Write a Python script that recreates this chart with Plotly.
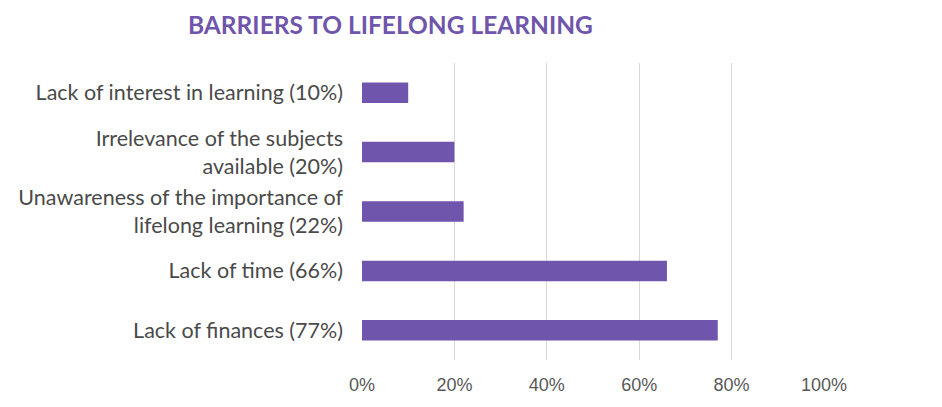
import plotly.graph_objects as go

categories = [
    "Lack of interest in learning (10%)",
    "Irrelevance of the subjects<br>available (20%)",
    "Unawareness of the importance of<br>lifelong learning (22%)",
    "Lack of time (66%)",
    "Lack of finances (77%)",
]
values = [0.10, 0.20, 0.22, 0.66, 0.77]
tick_vals = [0, 0.2, 0.4, 0.6, 0.8, 1.0]
tick_text = ["0%", "20%", "40%", "60%", "80%", "100%"]

purple = "#6F55AB"

fig = go.Figure(
    go.Bar(
        x=values,
        y=categories,
        orientation="h",
        marker=dict(color=purple, line=dict(width=0)),
        width=0.345,
        hoverinfo="skip",
    )
)

fig.update_layout(
    width=942,
    height=407,
    margin=dict(l=362, r=118, t=63, b=43),
    paper_bgcolor="white",
    plot_bgcolor="white",
    showlegend=False,
    font=dict(family="Lato", color="#404040"),
    annotations=[
        dict(
            text="<b>BARRIERS TO LIFELONG LEARNING</b>",
            xref="paper", yref="paper",
            x=(390 - 362) / 462, y=1,
            xanchor="center", yanchor="middle",
            yshift=39,
            showarrow=False,
            font=dict(family="Lato", size=24.5, color=purple),
        )
    ],
)

fig.update_xaxes(
    range=[0, 1.0],
    tickvals=tick_vals,
    ticktext=tick_text,
    showgrid=True,
    gridcolor="#D9D9D9",
    gridwidth=1,
    zeroline=False,
    showline=False,
    tickfont=dict(family="Liberation Sans, Arial", size=18, color="#595959"),
    ticks="",
    ticklabelstandoff=12,
)

fig.update_yaxes(
    autorange="reversed",
    showgrid=False,
    zeroline=False,
    showline=False,
    ticks="",
    tickfont=dict(family="Lato", size=21.5, color="#4A4A4A"),
    ticklabelstandoff=18,
)

fig.write_html("out.html")
